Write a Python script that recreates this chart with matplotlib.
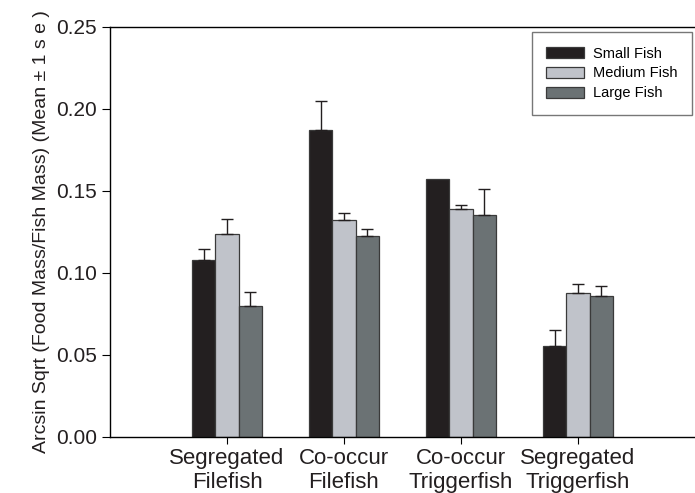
import matplotlib
matplotlib.use("Agg")
import matplotlib.pyplot as plt
import numpy as np

categories = ["Segregated\nFilefish", "Co-occur\nFilefish", "Co-occur\nTriggerfish", "Segregated\nTriggerfish"]
series_names = ["Small Fish", "Medium Fish", "Large Fish"]
small_mean = [0.108, 0.187, 0.157, 0.055]
small_se = [0.0067, 0.018, 0.0, 0.0103]
medium_mean = [0.1235, 0.1324, 0.139, 0.0875]
medium_se = [0.0095, 0.0043, 0.0024, 0.0059]
large_mean = [0.0797, 0.1227, 0.1355, 0.0857]
large_se = [0.0087, 0.004, 0.0153, 0.0061]
colors = ["#231f20", "#c0c3ca", "#6b7274"]

plt.rcParams.update({
    'font.family': ['Liberation Sans', 'DejaVu Sans'],
    'axes.linewidth': 1.0,
    'xtick.major.size': 5,
    'ytick.major.size': 6,
})

fig = plt.figure(figsize=(6.95, 4.93), dpi=100)
ax = fig.add_axes([110 / 695, 56.5 / 493, 585 / 695, 409.5 / 493])

x = np.arange(1, len(categories) + 1)
width = 0.2
means = [small_mean, medium_mean, large_mean]
ses = [small_se, medium_se, large_se]
for i, (m, s) in enumerate(zip(means, ses)):
    pos = x + (i - 1) * width
    ax.bar(pos, m, width, color=colors[i], edgecolor='#3a3a3a', linewidth=0.9,
           label=series_names[i], zorder=2)
    # only draw the bars that have a visible error
    m = np.array(m)
    s = np.array(s)
    keep = s > 0
    ax.errorbar(pos[keep], m[keep], yerr=[np.zeros(keep.sum()), s[keep]], fmt='none',
                ecolor='#231f20', elinewidth=1.0, capsize=4.5, capthick=1.0, zorder=3)

ax.set_xlim(0, 585 / 117)
ax.set_ylim(0, 0.25)
ax.set_yticks(np.arange(0, 0.26, 0.05))
ax.set_yticklabels([f"{v:.2f}" for v in np.arange(0, 0.26, 0.05)], fontsize=15, color='#231f20')
ax.set_xticks(x)
ax.set_xticklabels(categories, fontsize=16, color='#231f20', linespacing=1.2)
ax.tick_params(axis='x', pad=3)
ax.spines['right'].set_visible(False)
ax.set_ylabel("Arcsin Sqrt (Food Mass/Fish Mass) (Mean \u00b1 1 s e )", fontsize=14,
              color='#231f20', labelpad=4)

ax.legend(loc='upper right', bbox_to_anchor=(582 / 585, 1 - 5 / 409.5), frameon=True,
          fancybox=False, edgecolor='#555555', fontsize=10.5, handlelength=2.6,
          handleheight=0.8, borderpad=1.0, labelspacing=0.4, handletextpad=0.6,
          borderaxespad=0)

fig.savefig("out.png", dpi=100)
